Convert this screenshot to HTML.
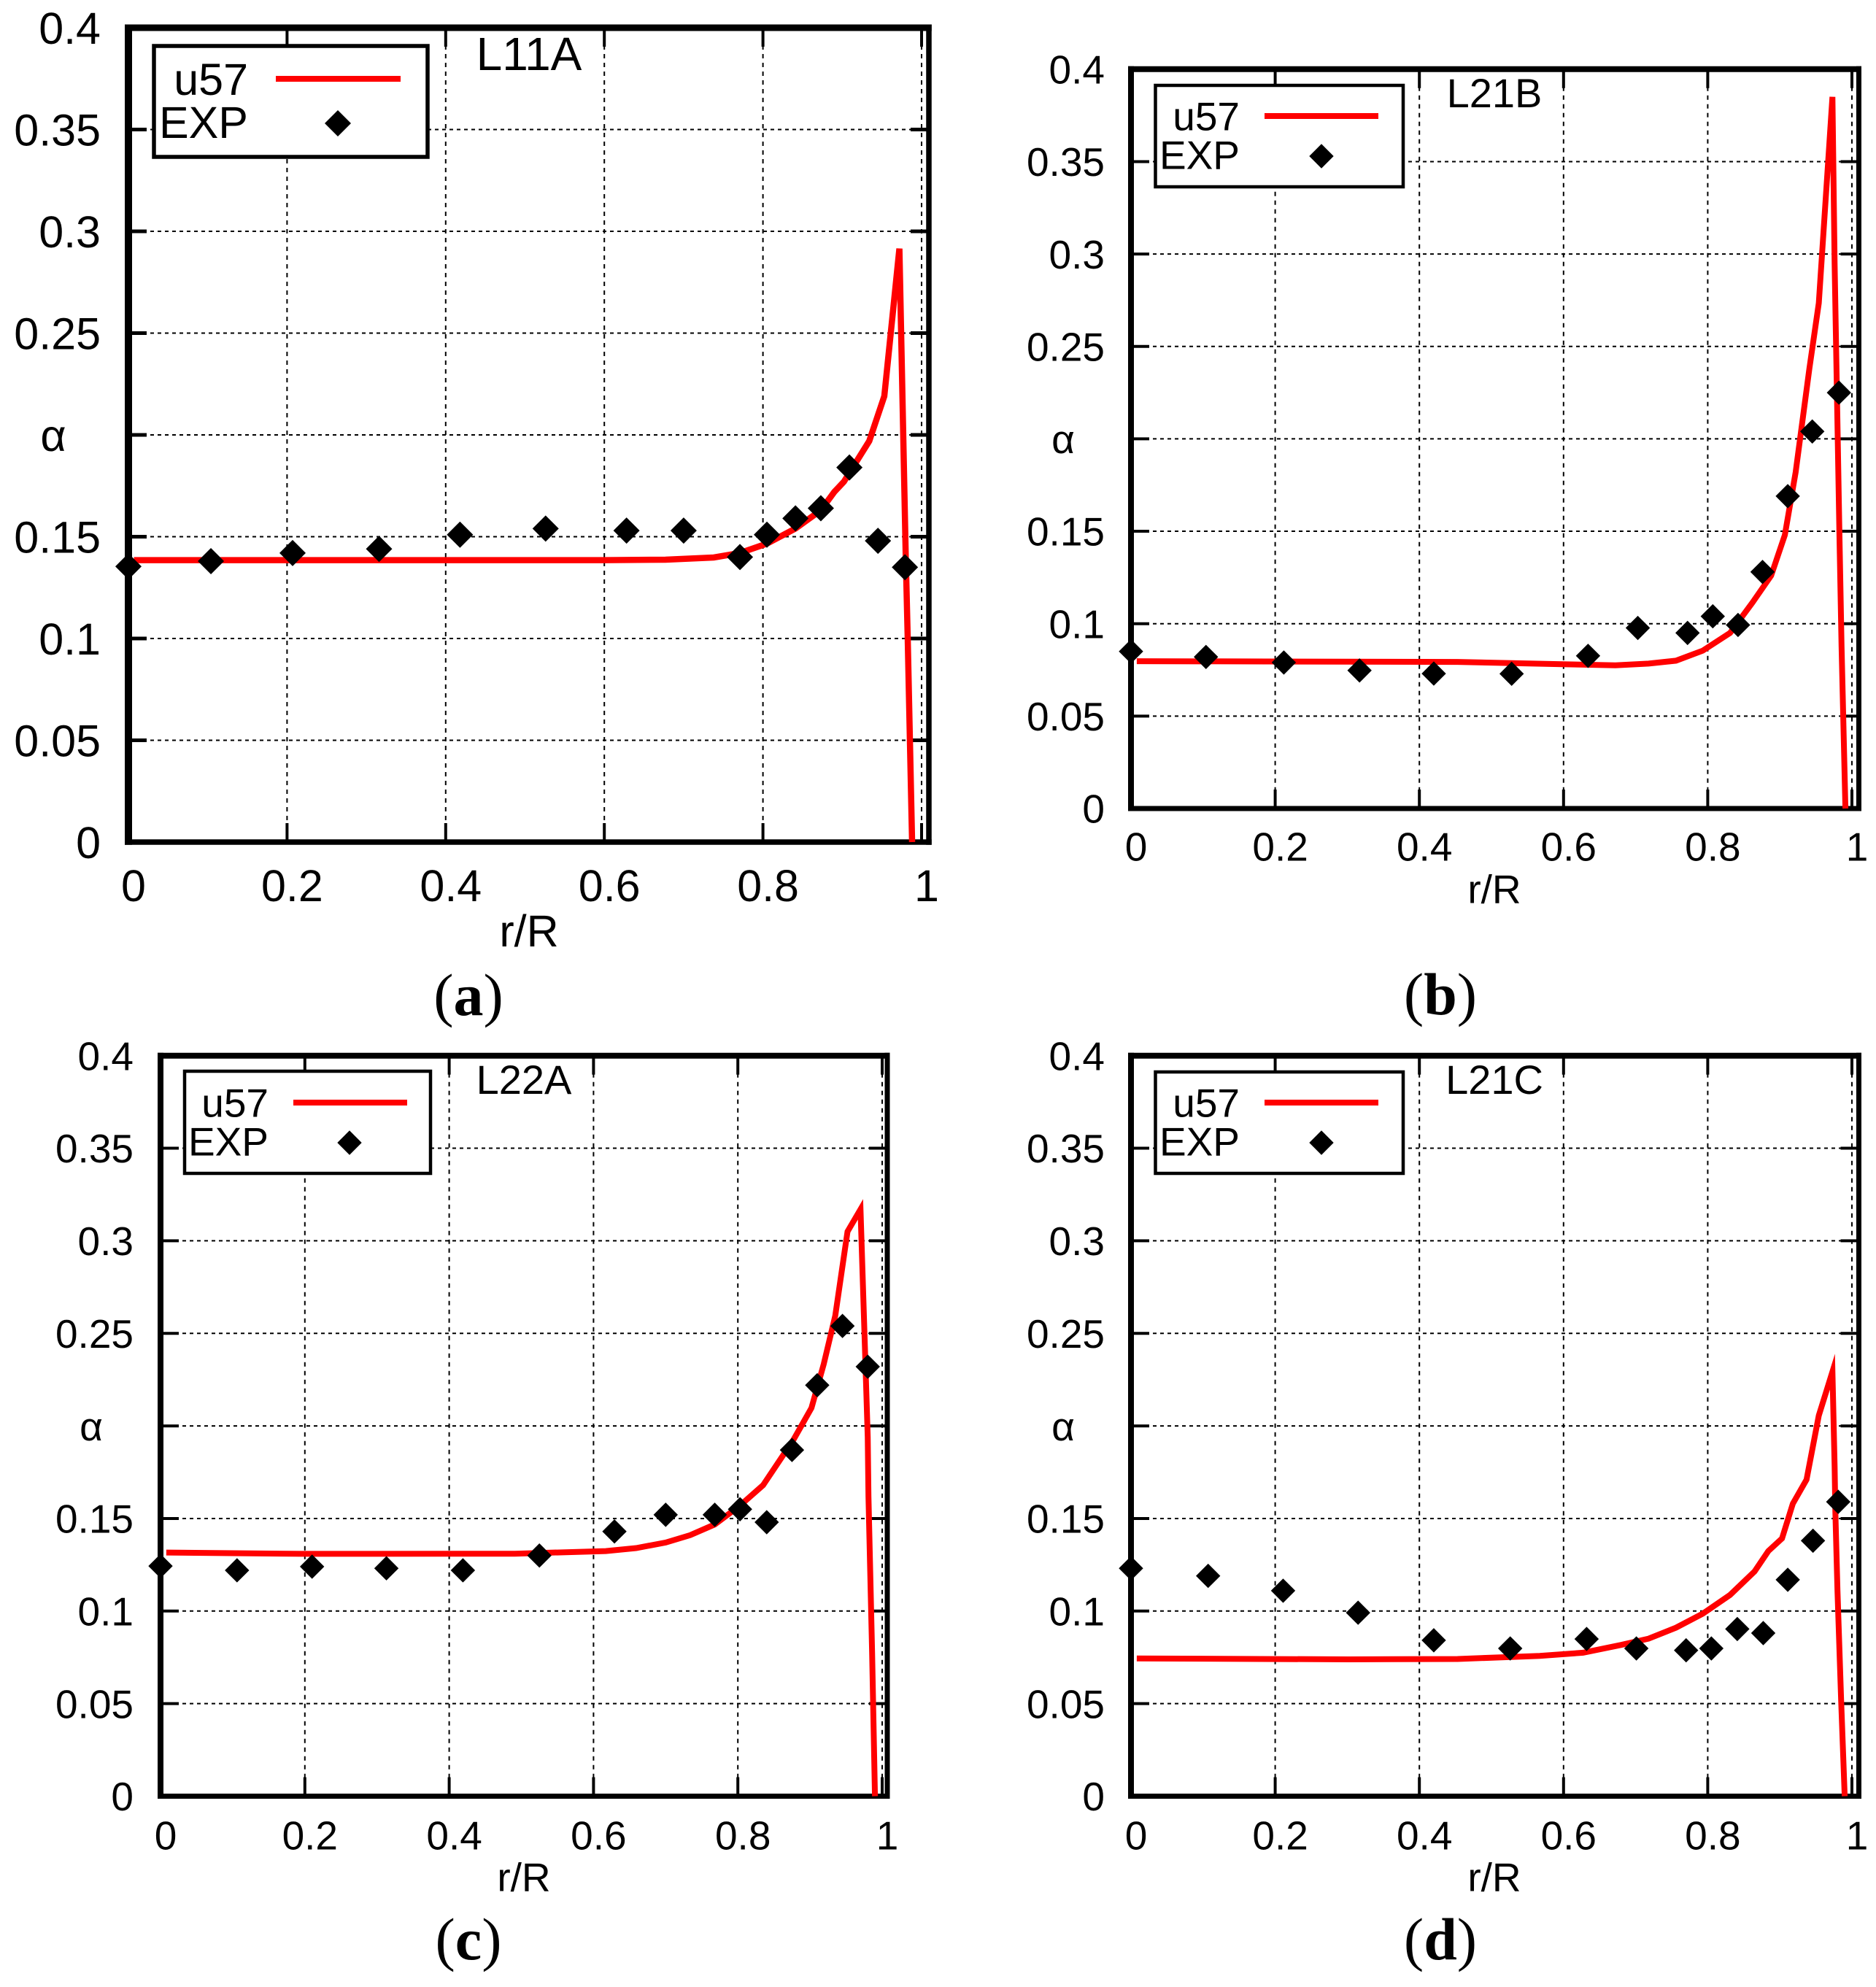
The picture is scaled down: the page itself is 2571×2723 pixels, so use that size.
<!DOCTYPE html>
<html lang="en">
<head>
<meta charset="utf-8">
<title>Alpha versus r/R for four cases</title>
<style>
  html, body { margin: 0; padding: 0; background: #fff; }
  svg { display: block; }
  text { font-family: "Liberation Sans", sans-serif; fill: #000; }
  .cap { font-family: "Liberation Serif", serif; }
</style>
</head>
<body>
<svg id="figure" xmlns="http://www.w3.org/2000/svg" width="2571" height="2723" viewBox="0 0 2571 2723"></svg>
<script>
// Shared axis tick data
const xTickValues = [0, 0.2, 0.4, 0.6, 0.8, 1];
const xTickLabels = ['0', '0.2', '0.4', '0.6', '0.8', '1'];
const yTickValues = [0, 0.05, 0.1, 0.15, 0.2, 0.25, 0.3, 0.35, 0.4];
const yTickLabels = ['0', '0.05', '0.1', '0.15', 'α', '0.25', '0.3', '0.35', '0.4'];

// Panel (a) L11A
const expXA = [0, 0.104, 0.207, 0.316, 0.418, 0.526, 0.628, 0.70, 0.771, 0.805, 0.841, 0.873, 0.909, 0.945, 0.979];
const expYA = [0.1354, 0.138, 0.142, 0.144, 0.151, 0.154, 0.153, 0.153, 0.140, 0.151, 0.159, 0.164, 0.184, 0.148, 0.135];
const curveXA = [0.007, 0.3, 0.6, 0.677, 0.738, 0.771, 0.805, 0.841, 0.873, 0.89, 0.902, 0.934, 0.953, 0.972, 0.98, 0.9825, 0.988];
const curveYA = [0.1385, 0.1385, 0.1385, 0.1387, 0.1398, 0.142, 0.1466, 0.154, 0.163, 0.172, 0.177, 0.197, 0.219, 0.2915, 0.14, 0.1, 0];

// Panel (b) L21B
const expXB = [0, 0.104, 0.212, 0.317, 0.42, 0.528, 0.634, 0.703, 0.772, 0.807, 0.842, 0.876, 0.911, 0.945, 0.982];
const expYB = [0.085, 0.082, 0.079, 0.0747, 0.073, 0.0729, 0.0826, 0.0977, 0.095, 0.104, 0.0993, 0.128, 0.169, 0.204, 0.225];
const curveXB = [0.008, 0.453, 0.604, 0.672, 0.718, 0.756, 0.793, 0.831, 0.862, 0.888, 0.907, 0.922, 0.941, 0.954, 0.973, 0.976, 0.9826, 0.9856, 0.991];
const curveYB = [0.0797, 0.0793, 0.078, 0.0775, 0.0784, 0.080, 0.0854, 0.095, 0.1114, 0.126, 0.148, 0.182, 0.238, 0.2734, 0.385, 0.2946, 0.15, 0.0876, 0];

// Panel (c) L22A
const expXC = [0, 0.106, 0.21, 0.313, 0.419, 0.525, 0.629, 0.70, 0.768, 0.803, 0.84, 0.875, 0.91, 0.945, 0.98];
const expYC = [0.1243, 0.122, 0.124, 0.1231, 0.122, 0.130, 0.143, 0.152, 0.152, 0.155, 0.148, 0.187, 0.222, 0.254, 0.232];
const curveXC = [0.008, 0.197, 0.491, 0.617, 0.659, 0.70, 0.734, 0.768, 0.803, 0.835, 0.877, 0.902, 0.919, 0.935, 0.952, 0.97, 0.976, 0.98, 0.981, 0.986, 0.99];
const curveYC = [0.1316, 0.1309, 0.131, 0.1324, 0.134, 0.137, 0.141, 0.1468, 0.157, 0.168, 0.1925, 0.2097, 0.2334, 0.2595, 0.305, 0.317, 0.243, 0.194, 0.162, 0.0775, 0];

// Panel (d) L21C
const expXD = [0, 0.107, 0.211, 0.315, 0.42, 0.526, 0.632, 0.701, 0.77, 0.805, 0.841, 0.877, 0.911, 0.946, 0.981];
const expYD = [0.1231, 0.119, 0.111, 0.0991, 0.0842, 0.0798, 0.0849, 0.0798, 0.0788, 0.0798, 0.0903, 0.0881, 0.1169, 0.138, 0.159];
const curveXD = [0.008, 0.302, 0.453, 0.567, 0.627, 0.68, 0.718, 0.756, 0.793, 0.831, 0.865, 0.884, 0.903, 0.918, 0.937, 0.954, 0.973, 0.976, 0.977, 0.98, 0.985, 0.99];
const curveYD = [0.0744, 0.0739, 0.0741, 0.0758, 0.0775, 0.0817, 0.0851, 0.091, 0.0986, 0.1087, 0.1214, 0.1324, 0.1392, 0.158, 0.171, 0.2056, 0.2293, 0.178, 0.1536, 0.111, 0.052, 0];

const NS = 'http://www.w3.org/2000/svg';
const root = document.getElementById('figure');

function make(tag, attrs, parent) {
  const el = document.createElementNS(NS, tag);
  for (const k in attrs) el.setAttribute(k, attrs[k]);
  parent.appendChild(el);
  return el;
}

function drawPanel(p) {
  const sx = v => p.x0 + v * p.xUnit;
  const sy = v => p.y0 - v * p.yUnit;
  const top = sy(0.4);

  const g = make('g', {}, root);
  
  

  // grid
  xTickValues.forEach(v => {
    if (v === 0) return;
    const l = make('line', {x1: sx(v), x2: sx(v), y1: top, y2: p.y0, stroke: '#000', 'stroke-width': 2, 'stroke-dasharray': '6 6'}, g);
    
    
  });
  yTickValues.forEach(v => {
    if (v === 0 || v === 0.4) return;
    const l = make('line', {x1: p.x0, x2: p.xRight, y1: sy(v), y2: sy(v), stroke: '#000', 'stroke-width': 2, 'stroke-dasharray': '5 5'}, g);
    
    
  });

  // ticks
  xTickValues.forEach(v => {
    const a = make('line', {x1: sx(v), x2: sx(v), y1: p.y0, y2: p.y0 - 26, stroke: '#000', 'stroke-width': 4}, g);
    
    
    const b = make('line', {x1: sx(v), x2: sx(v), y1: top, y2: top + 26, stroke: '#000', 'stroke-width': 4}, g);
    
    
  });
  yTickValues.forEach(v => {
    const a = make('line', {x1: p.x0, x2: p.x0 + 25, y1: sy(v), y2: sy(v), stroke: '#000', 'stroke-width': p.yTickWidth}, g);
    
    
    const b = make('line', {x1: p.xRight, x2: p.xRight - 25, y1: sy(v), y2: sy(v), stroke: '#000', 'stroke-width': p.yTickWidth}, g);
    
    
  });

  // frame sides
  const hl = p.frameLeft / 2, hr = p.frameRight / 2;
  const fl = make('line', {x1: p.x0, x2: p.x0, y1: top - p.frameTop / 2, y2: p.y0 + p.frameBottom / 2, stroke: '#000', 'stroke-width': p.frameLeft}, g);
  
  
  const fr = make('line', {x1: p.xRight, x2: p.xRight, y1: top - p.frameTop / 2, y2: p.y0 + p.frameBottom / 2, stroke: '#000', 'stroke-width': p.frameRight}, g);
  
  
  const ft = make('line', {x1: p.x0 - hl, x2: p.xRight + hr, y1: top, y2: top, stroke: '#000', 'stroke-width': p.frameTop}, g);
  
  
  const fb = make('line', {x1: p.x0 - hl, x2: p.xRight + hr, y1: p.y0, y2: p.y0, stroke: '#000', 'stroke-width': p.frameBottom}, g);
  
  

  // legend box
  const box = make('rect', {x: p.legend.x, y: p.legend.y, width: p.legend.w, height: p.legend.h, fill: '#fff', stroke: '#000', 'stroke-width': p.legend.stroke}, g);
  
  

  // curve
  const pts = p.curveX.map((x, i) => sx(x).toFixed(1) + ',' + sy(p.curveY[i]).toFixed(1)).join(' ');
  const curve = make('polyline', {points: pts, fill: 'none', stroke: '#ff0000', 'stroke-width': p.curveWidth, 'stroke-linejoin': 'miter', 'stroke-miterlimit': 10}, g);
  
  

  // experimental points
  p.expX.forEach((x, i) => {
    const cx = sx(x), cy = sy(p.expY[i]), r = p.marker;
    const d = make('polygon', {points: [cx, cy - r, cx + r, cy, cx, cy + r, cx - r, cy].join(' '), fill: '#000'}, g);
    
    
  });

  // y tick labels
  yTickValues.forEach((v, i) => {
    const isAlpha = yTickLabels[i] === 'α';
    const t = make('text', {
      x: isAlpha ? p.alphaX : p.yLabelRight,
      y: sy(v) + p.font * 0.358,
      'font-size': p.font,
      'text-anchor': isAlpha ? 'middle' : 'end'
    }, g);
    t.textContent = yTickLabels[i];
    
    
  });

  // x tick labels
  xTickValues.forEach((v, i) => {
    const t = make('text', {x: sx(v) + 7, y: p.xLabelY + p.font * 0.358, 'font-size': p.font, 'text-anchor': 'middle'}, g);
    t.textContent = xTickLabels[i];
    
    
  });

  // x axis title
  const xt = make('text', {x: p.titleX, y: p.xTitleY + p.font * 0.358, 'font-size': p.font, 'text-anchor': 'middle'}, g);
  xt.textContent = 'r/R';
  
  

  // panel title
  const pt = make('text', {x: p.titleX, y: p.titleY + p.titleFont * 0.358, 'font-size': p.titleFont, 'text-anchor': 'middle'}, g);
  pt.textContent = p.title;
  
  

  // legend contents
  const lg = p.legend;
  const t1 = make('text', {x: lg.textRight, y: lg.row1 + p.font * 0.358, 'font-size': p.font, 'text-anchor': 'end'}, g);
  t1.textContent = 'u57';
  
  
  const t2 = make('text', {x: lg.textRight, y: lg.row2 + p.font * 0.358, 'font-size': p.font, 'text-anchor': 'end'}, g);
  t2.textContent = 'EXP';
  
  
  const ll = make('line', {x1: lg.lineX1, x2: lg.lineX2, y1: lg.row1, y2: lg.row1, stroke: '#ff0000', 'stroke-width': 8}, g);
  
  
  const mx = lg.markerX, my = lg.row2 + 2, mr = p.marker;
  const lm = make('polygon', {points: [mx, my - mr, mx + mr, my, mx, my + mr, mx - mr, my].join(' '), fill: '#000'}, g);
  
  

  // subfigure caption
  const cap = make('text', {x: p.capX, y: p.capY + 24, 'font-size': 82, 'text-anchor': 'middle', class: 'cap'}, g);
  
  
  const c1 = make('tspan', {}, cap); c1.textContent = '(';
  const c2 = make('tspan', {'font-weight': 'bold'}, cap); c2.textContent = p.cap;
  const c3 = make('tspan', {}, cap); c3.textContent = ')';
}

drawPanel({
  id: 'a', title: 'L11A', cap: 'a', curveX: curveXA, curveY: curveYA, expX: expXA, expY: expYA,
  x0: 176, xUnit: 1087, xRight: 1273, y0: 1154, yUnit: 2790,
  frameLeft: 10, frameTop: 9, frameRight: 7.5, frameBottom: 7.5, yTickWidth: 5, curveWidth: 8.5,
  font: 61, titleFont: 64, marker: 18,
  yLabelRight: 138, alphaX: 73, xLabelY: 1213, xTitleY: 1275, titleX: 725, titleY: 73, capX: 642, capY: 1367,
  legend: {x: 211, y: 63, w: 375, h: 152, stroke: 5.5, textRight: 340, row1: 108, row2: 167, lineX1: 378, lineX2: 549, markerX: 463}
});
drawPanel({
  id: 'b', title: 'L21B', cap: 'b', curveX: curveXB, curveY: curveYB, expX: expXB, expY: expYB,
  x0: 1550, xUnit: 988, xRight: 2547.5, y0: 1108, yUnit: 2533,
  frameLeft: 8, frameTop: 8, frameRight: 7, frameBottom: 7, yTickWidth: 4, curveWidth: 8,
  font: 55, titleFont: 56, marker: 16.7,
  yLabelRight: 1514, alphaX: 1457, xLabelY: 1160, xTitleY: 1218, titleX: 2048, titleY: 127, capX: 1974, capY: 1366,
  legend: {x: 1583.5, y: 117, w: 339.5, h: 139, stroke: 4.5, textRight: 1699, row1: 159, row2: 212, lineX1: 1733, lineX2: 1889, markerX: 1811}
});
drawPanel({
  id: 'c', title: 'L22A', cap: 'c', curveX: curveXC, curveY: curveYC, expX: expXC, expY: expYC,
  x0: 220, xUnit: 989, xRight: 1216, y0: 2461.5, yUnit: 2537,
  frameLeft: 8, frameTop: 8, frameRight: 7, frameBottom: 7, yTickWidth: 4, curveWidth: 8,
  font: 55, titleFont: 56, marker: 16.7,
  yLabelRight: 183, alphaX: 125, xLabelY: 2515, xTitleY: 2572, titleX: 718, titleY: 1479, capX: 642, capY: 2661,
  legend: {x: 253, y: 1468, w: 337, h: 140, stroke: 4.5, textRight: 368, row1: 1511, row2: 1564, lineX1: 402, lineX2: 558, markerX: 479}
});
drawPanel({
  id: 'd', title: 'L21C', cap: 'd', curveX: curveXD, curveY: curveYD, expX: expXD, expY: expYD,
  x0: 1550, xUnit: 988, xRight: 2547.5, y0: 2461.5, yUnit: 2537,
  frameLeft: 8, frameTop: 8, frameRight: 7, frameBottom: 7, yTickWidth: 4, curveWidth: 8,
  font: 55, titleFont: 56, marker: 16.7,
  yLabelRight: 1514, alphaX: 1457, xLabelY: 2515, xTitleY: 2572, titleX: 2048, titleY: 1479, capX: 1974, capY: 2661,
  legend: {x: 1583.5, y: 1469, w: 339.5, h: 139, stroke: 4.5, textRight: 1699, row1: 1511, row2: 1564, lineX1: 1733, lineX2: 1889, markerX: 1811}
});
</script>
</body>
</html>
